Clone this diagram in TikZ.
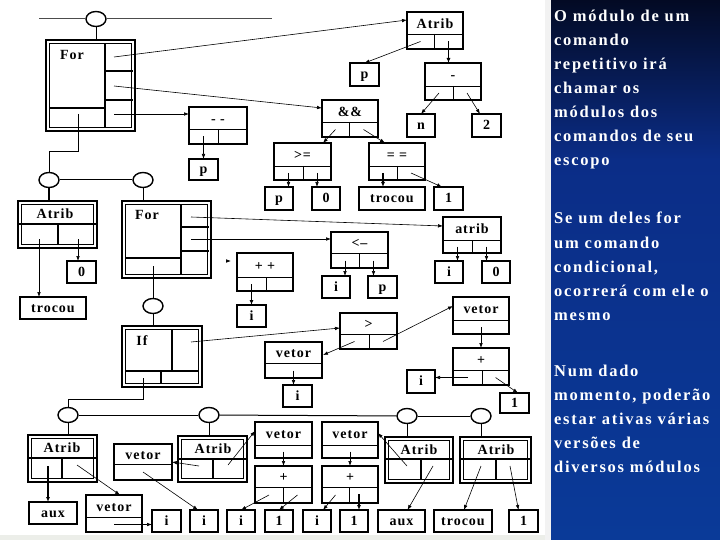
\documentclass[tikz,border=0pt]{standalone}
\usepackage{fontspec}
\setmainfont{Liberation Serif}
\newfontfamily\dfont[LetterSpace=7]{Liberation Serif Bold}
\newfontfamily\pfont[LetterSpace=10.5]{Liberation Serif Bold}
\usetikzlibrary{arrows.meta,calc,shapes.geometric}
\definecolor{stripC}{RGB}{236,238,233}
\definecolor{panTop}{RGB}{3,10,36}
\definecolor{panMid}{RGB}{11,45,135}
\definecolor{panBot}{RGB}{10,58,152}
\tikzset{
  bx/.style={draw,line width=1.5pt,inner sep=0pt,outer sep=0pt},
  lbl/.style={inner sep=0pt,font=\dfont\fontsize{14}{15}\selectfont,text height=10pt,text depth=1.5pt},
  cell/.style={line width=0.9pt},
  thk/.style={line width=2pt},
  tree/.style={line width=1pt},
  arr/.style={line width=0.6pt,-{Latex[length=5pt,width=3.6pt]}},
  tarr/.style={line width=1.5pt,-{Latex[length=5pt,width=4pt]}},
  circ/.style={draw,ellipse,line width=1.4pt,minimum width=20pt,minimum height=15pt,inner sep=0pt,fill=white},
  ptxt/.style={anchor=base west,inner sep=0pt,text=white,font=\pfont\fontsize{16.5}{18}\selectfont},
}
\newcommand\opbox[8]{%
  \node[bx,minimum width={(#4)-(#2)},minimum height={(#5)-(#3)}] (#1) at ({((#2)+(#4))/2},{((#3)+(#5))/2}) {};
  \node[lbl] (#1-t) at ({((#2)+(#4))/2},{((#3)+(#6))/2+1}) {#8};
  \draw[cell] (#2,#6) -- (#4,#6) (#7,#6) -- (#7,#5);
  \coordinate (#1-L) at ({((#2)+(#7))/2},{((#6)+(#5))/2});
  \coordinate (#1-R) at ({((#7)+(#4))/2},{((#6)+(#5))/2});
}
\newcommand\vetbox[6]{%
  \node[bx,minimum width={(#4)-(#2)},minimum height={(#5)-(#3)}] (#1) at ({((#2)+(#4))/2},{((#3)+(#5))/2}) {};
  \node[lbl] (#1-t) at ({((#2)+(#4))/2},{((#3)+(#6))/2+1}) {vetor};
  \draw[cell] (#2,#6) -- (#4,#6);
  \coordinate (#1-c) at ({((#2)+(#4))/2},{((#6)+(#5))/2});
}
\newcommand\leafbox[6]{%
  \node[bx,lbl,minimum width={(#4)-(#2)},minimum height={(#5)-(#3)}] (#1) at ({((#2)+(#4))/2},{((#3)+(#5))/2}) {#6};
}
\newcommand\dblbox[5]{%
  \node[draw,line width=1.2pt,inner sep=0pt,outer sep=0pt,minimum width={(#4)-(#2)},minimum height={(#5)-(#3)}] (#1) at ({((#2)+(#4))/2},{((#3)+(#5))/2}) {};
  \draw[line width=1.5pt] ({(#2)+3.5},{(#3)+3.5}) rectangle ({(#4)-3.5},{(#5)-3.5});
}
\begin{document}
\begin{tikzpicture}[x=1pt,y=-1pt]
\useasboundingbox (0,0) rectangle (720,540);
\fill[white] (0,0) rectangle (720,540);
% right panel
\fill[gray!10] (545,0) rectangle (551,540);
\fill[stripC] (0,535) rectangle (545,540);
\shade[top color=panTop,bottom color=panMid] (551,0) rectangle (720,160);
\shade[top color=panMid,bottom color=panBot] (551,160) rectangle (720,540);
\node[ptxt] (t1) at (554,22) {O módulo de um};
\node[ptxt] (t2) at (554,46) {comando};
\node[ptxt] (t3) at (554,70) {repetitivo irá};
\node[ptxt] (t4) at (554,94) {chamar os};
\node[ptxt] (t5) at (554,118) {módulos dos};
\node[ptxt] (t6) at (554,142) {comandos de seu};
\node[ptxt] (t7) at (554,166) {escopo};
\node[ptxt] (u1) at (554,223) {Se um deles for};
\node[ptxt] (u2) at (554,248) {um comando};
\node[ptxt] (u3) at (554,272) {condicional,};
\node[ptxt] (u4) at (554,296) {ocorrerá com ele o};
\node[ptxt] (u5) at (554,320) {mesmo};
\node[ptxt] (v1) at (554,376) {Num dado};
\node[ptxt] (v2) at (554,400) {momento, poderão};
\node[ptxt] (v3) at (554,424) {estar ativas várias};
\node[ptxt] (v4) at (554,448) {versões de};
\node[ptxt] (v5) at (554,472) {diversos módulos};

% ---------- structure boxes
\dblbox{F1}{46}{40}{135}{131}
\draw[thk] (105,43.5) -- (105,127.5);
\draw[thk] (49.5,108) -- (105,108);
\draw[line width=1.5pt] (105,71) -- (133,71) (105,100) -- (133,100);
\node[lbl] (F1-t) at (72,55) {For};

\dblbox{A1}{18}{201}{97}{248}
\draw[thk] (18,224) -- (97,224) (58,224) -- (58,244.5);
\node[lbl] (A1-t) at (55,214) {Atrib};

\dblbox{F2}{122}{201}{211}{278}
\draw[thk] (181,204.5) -- (181,274.5);
\draw[thk] (125.5,258) -- (181,258);
\draw[line width=1.2pt] (181,227) -- (209,227) (181,251) -- (209,251);
\node[lbl] (F2-t) at (147,215) {For};

\dblbox{IF}{122}{326}{202}{387}
\draw[thk] (172,329.5) -- (172,371) (125.5,371) -- (198.5,371) (161,371) -- (161,383.5);
\node[lbl] (IF-t) at (142,341) {If};

\dblbox{A3}{28}{435}{97}{482}
\draw[thk] (28,458) -- (97,458) (62,458) -- (62,478.5);
\node[lbl] (A3-t) at (62,448) {Atrib};
\dblbox{A4}{178}{436}{247}{482}
\draw[thk] (178,459) -- (247,459) (213,459) -- (213,478.5);
\node[lbl] (A4-t) at (213,449) {Atrib};
\dblbox{A5}{385}{437}{453}{483}
\draw[thk] (385,459) -- (453,459) (421,459) -- (421,479.5);
\node[lbl] (A5-t) at (419,450) {Atrib};
\dblbox{A6}{460}{437}{531}{483}
\draw[thk] (460,459) -- (531,459) (496,459) -- (496,479.5);
\node[lbl] (A6-t) at (496,450) {Atrib};

% ---------- operator boxes
\opbox{atribT}{407}{12}{463}{49}{34}{434}{Atrib}
\opbox{minus}{425}{63}{481}{100}{86}{453}{-}
\opbox{andand}{322}{100}{378}{137}{122}{349}{\&\&}
\opbox{ge}{274}{143}{331}{180}{166}{303}{>=}
\opbox{eq}{369}{143}{425}{180}{166}{397}{= =}
\opbox{mm}{189}{107}{247}{144}{129}{218}{- -}
\opbox{atrib2}{443}{217}{501}{253}{240}{472}{atrib}
\opbox{le}{331}{232}{388}{268}{253}{359}{<–}
\opbox{pp}{237}{253}{293}{291}{277}{266}{+ +}
\opbox{gt}{340}{313}{397}{349}{334}{369}{>}
\opbox{plusR}{453}{348}{509}{385}{370}{482}{+}
\opbox{plusC}{255}{466}{312}{503}{487}{283}{+}
\opbox{plusD}{322}{466}{378}{503}{487}{349}{+}

\vetbox{vetR}{453}{297}{509}{334}{320}
\vetbox{vetM}{265}{342}{322}{378}{363}
\vetbox{vetC}{255}{422}{312}{458}{445}
\vetbox{vetD}{322}{422}{378}{458}{445}
\vetbox{vetL}{114}{444}{172}{480}{464}
\vetbox{vetB}{86}{495}{142}{532}{517}

% ---------- leaves
\leafbox{pT}{350}{63}{379}{86}{p}
\leafbox{n}{407}{114}{435}{137}{n}
\leafbox{two}{472}{114}{501}{137}{2}
\leafbox{pmm}{189}{159}{218}{180}{p}
\leafbox{pge}{265}{187}{293}{210}{p}
\leafbox{zge}{312}{187}{340}{210}{0}
\leafbox{troE}{359}{187}{425}{210}{trocou}
\leafbox{oneE}{434}{187}{463}{210}{1}
\leafbox{iA2}{435}{261}{463}{283}{i}
\leafbox{zA2}{482}{261}{510}{283}{0}
\leafbox{iLe}{322}{276}{350}{298}{i}
\leafbox{pLe}{368}{276}{397}{298}{p}
\leafbox{iPP}{237}{305}{266}{327}{i}
\leafbox{zA1}{67}{261}{96}{283}{0}
\leafbox{troA1}{20}{297}{86}{319}{trocou}
\leafbox{iM}{283}{385}{312}{407}{i}
\leafbox{iR}{407}{370}{435}{393}{i}
\leafbox{oneR}{500}{393}{529}{413}{1}
\leafbox{aux1}{29}{502}{77}{524}{aux}
\leafbox{i1}{152}{510}{181}{532}{i}
\leafbox{i2}{190}{510}{218}{532}{i}
\leafbox{i3}{227}{510}{255}{532}{i}
\leafbox{one1}{265}{510}{293}{532}{1}
\leafbox{i4}{303}{510}{331}{532}{i}
\leafbox{one2}{340}{510}{368}{532}{1}
\leafbox{aux2}{378}{510}{425}{532}{aux}
\leafbox{tro}{434}{510}{492}{532}{trocou}
\leafbox{one3}{509}{510}{538}{532}{1}

% ---------- circles
\node[circ] (c0) at (96,19) {};
\node[circ] (cA) at (49,180) {};
\node[circ] (cB) at (143,180) {};
\node[circ] (cIf) at (153,306) {};
\node[circ] (cC) at (68,415) {};
\node[circ] (cD) at (209,415) {};
\node[circ] (cE) at (407,416) {};
\node[circ] (cF) at (481,416) {};

% ---------- tree lines
\coordinate (tl) at (39,19);
\coordinate (tr) at (272,19);
\draw[tree,gray!60!black] (tl) -- (c0) -- (tr);
\draw[tree] (c0) -- (c0 |- F1.north);
\coordinate (f1d) at (78,114);
\draw[tree] (f1d) -- ++(0,38) -| (cA.north);
\draw[tree] (cA) -- (cB);
\draw[line width=1.5pt] (cA) -- (cA |- A1.north);
\draw[tree] (cB) -- (cB |- F2.north);
\coordinate (f2d) at (153,266);
\draw[tree] (f2d) -- (cIf);
\draw[tree] (cIf) -- (cIf |- IF.north);
\coordinate (ifd) at (143,378);
\draw[tree] (ifd) -- ++(0,21) -| (cC.north);
\draw[tree] (cC) -- (cD);
\draw[tree] (cD) -- (cE);
\draw[tree] (cE) -- (cF);
\draw[tree] (cC) -- (cC |- A3.north);
\draw[tree] (cD) -- (cD |- A4.north);
\draw[tree] (cE) -- (cE |- A5.north);
\draw[tree] (cF) -- (cF |- A6.north);

% ---------- connectors from For1
\coordinate (f1a) at (114,57);
\coordinate (f1b) at (114,86);
\coordinate (f1c) at (114,114);
\draw[arr] (f1a) -- (atribT.west |- 0,20);
\draw[arr] (f1b) -- (andand.west |- 0,108);
\draw[arr] (f1c) -- (mm.west |- f1c);
\draw[arr] (mm-L) -- (mm-L |- pmm.north);
\draw[arr] (atribT-L) -- (pT.north);
\draw[tarr] (atribT-R) -- (atribT-R |- minus.north);
\draw[arr] (minus-L) -- (n.north);
\draw[arr] (minus-R) -- ($(two.north west)+(8,0)$);
\draw[arr] (andand-L) -- ($(ge.north east)+(-8,0)$);
\draw[arr] (andand-R) -- ($(eq.north west)+(16,0)$);
\draw[arr] (ge-L) -- (ge-L |- pge.north);
\draw[arr] (ge-R) -- (ge-R |- zge.north);
\draw[tarr] (eq-L) -- (eq-L |- troE.north);
\draw[arr] (eq-R) -- ($(oneE.north west)+(8,0)$);

% ---------- connectors from Atrib1
\coordinate (a1L) at (39,239);
\coordinate (a1R) at (78,239);
\draw[arr] (a1L) -- (a1L |- troA1.north);
\draw[arr] (a1R) -- (a1R |- zA1.north);

% ---------- connectors from For2
\coordinate (f2a) at (191,217);
\coordinate (f2b) at (191,239);
\draw[arr] (f2a) -- (atrib2.west |- 0,226);
\draw[arr] (f2b) -- (le.west |- f2b);
\coordinate (ppin) at ($(pp.north west)+(-10,8)$);
\draw[arr] (ppin) -- ++(4,0);
\draw[arr] (atrib2-L) -- (atrib2-L |- iA2.north);
\draw[arr] (atrib2-R) -- (atrib2-R |- zA2.north);
\draw[arr] (le-L) -- (le-L |- iLe.north);
\draw[arr] (le-R) -- (le-R |- pLe.north);
\draw[tarr] (pp-L) -- (pp-L |- iPP.north);

% ---------- connectors from If
\coordinate (ifa) at (191,342);
\draw[arr] (ifa) -- (gt.west |- 0,328);
\draw[arr] (gt-L) -- ($(vetM.north east)+(1,13)$);
\draw[arr] (gt-R) -- ($(vetR.north west)+(0,9)$);
\draw[arr] (vetM-c) -- (vetM-c |- iM.north);
\draw[arr] (vetR-c) -- (vetR-c |- plusR.north);
\draw[arr] (plusR-L) -- (plusR-L -| iR.east);
\draw[arr] (plusR-R) -- ($(oneR.north west)+(18,0)$);

% ---------- bottom connectors
\coordinate (a3L) at (48,466);
\coordinate (a3R) at (77,465);
\draw[tarr] (a3L) -- (a3L |- aux1.north);
\draw[arr] (a3R) -- ($(vetB.north)+(6,0)$);
\draw[arr] (vetB-c) -- (vetB-c -| i1.west);
\coordinate (a4L) at (199,466);
\coordinate (a4R) at (228,465);
\draw[arr] (a4L) -- (vetL.east);
\draw[arr] (vetL-c) -- ($(i2.north)+(-6,0)$);
\draw[arr] (a4R) -- ($(vetC.north west)+(0,9)$);
\draw[arr] (vetC-c) -- (vetC-c |- plusC.north);
\draw[arr] (plusC-L) -- (i3.north);
\draw[arr] (plusC-R) -- (one1.north);
\draw[arr] (vetD-c) -- (vetD-c |- plusD.north);
\draw[arr] (plusD-L) -- ($(i4.north east)+(-8,0)$);
\coordinate (pdR) at (359,494);
\draw[tarr] (pdR) -- (pdR |- one2.north);
\coordinate (a5L) at (407,466);
\coordinate (a5R) at (433,466);
\draw[arr] (a5L) -- ($(vetD.north east)+(0,11)$);
\draw[arr] (a5R) -- ($(aux2.north)+(6,0)$);
\coordinate (a6L) at (481,466);
\coordinate (a6R) at (510,466);
\draw[arr] (a6L) -- ($(tro.north)+(1,0)$);
\draw[arr] (a6R) -- ($(one3.north)+(-5,0)$);
\end{tikzpicture}
\end{document}
